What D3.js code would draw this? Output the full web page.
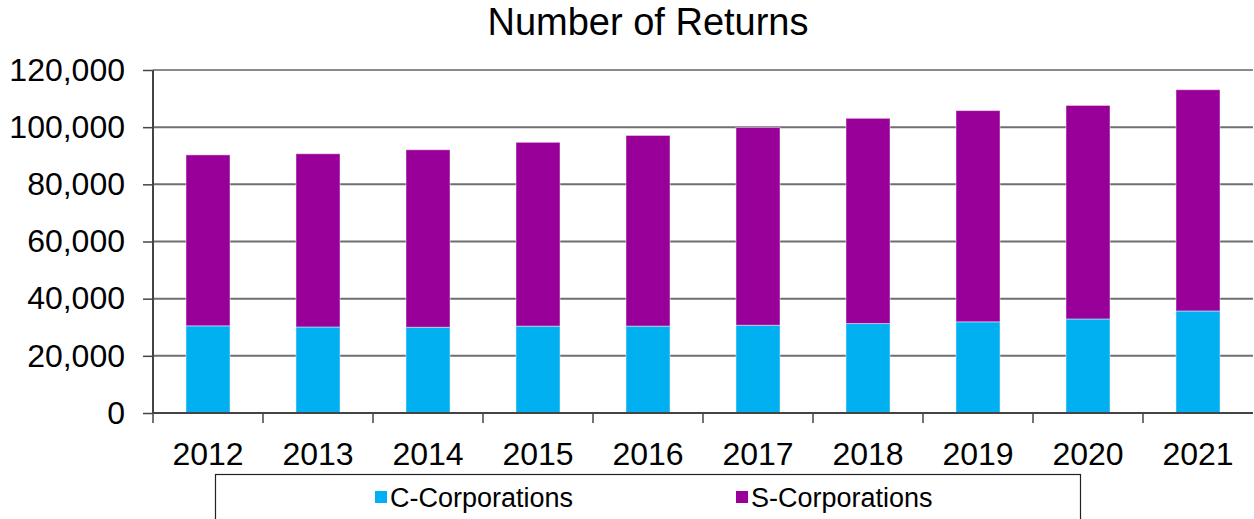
<!DOCTYPE html>
<html>
<head>
<meta charset="utf-8">
<script src="https://cdn.jsdelivr.net/npm/d3@7"></script>
<style>
  body { margin: 0; background: #fff; }
  text { font-family: "Liberation Sans", Arial, sans-serif; fill: #000; }
</style>
</head>
<body>
<div id="chart"></div>
<script>
// data
var years = ["2012", "2013", "2014", "2015", "2016", "2017", "2018", "2019", "2020", "2021"];
var cCorps = [30500, 30100, 30000, 30400, 30400, 30700, 31300, 31900, 32900, 35700];
var sCorps = [59800, 60600, 62100, 64300, 66700, 69200, 71800, 73900, 74700, 77400];
var yTicks = [0, 20000, 40000, 60000, 80000, 100000, 120000];
var seriesNames = ["C-Corporations", "S-Corporations"];
var colors = ["#00B0F0", "#990099"];

var svgWidth = 1254;
var svgHeight = 519;
var margin = { top: 70, right: 1, left: 153, bottom: 106 };
var width = svgWidth - margin.left - margin.right;
var height = svgHeight - margin.top - margin.bottom;

var svg = d3.select("#chart")
  .append("svg")
  .attr("width", svgWidth)
  .attr("height", svgHeight);

// title
svg.append("text")
  .attr("x", 648)
  .attr("y", 35)
  .attr("text-anchor", "middle")
  .style("font-size", "38px")
  .text("Number of Returns");

var g = svg.append("g")
  .attr("transform", "translate(" + margin.left + "," + margin.top + ")");

var xScale = d3.scaleBand()
  .domain(years)
  .range([0, width])
  .paddingInner(0.6)
  .paddingOuter(0.3);

var yScale = d3.scaleLinear()
  .domain([0, 120000])
  .range([height, 0]);

// gridlines
g.selectAll(".grid")
  .data(yTicks)
  .enter()
  .append("line")
  .attr("x1", 0)
  .attr("x2", width)
  .attr("y1", d => yScale(d))
  .attr("y2", d => yScale(d))
  .attr("stroke", d => d == 120000 ? "#8a8a8a" : "#6f6f6f")
  .attr("stroke-width", 2);

// stacked data
var stackData = years.map(function(y, i) {
  return { year: y, c: cCorps[i], s: sCorps[i] };
});
var stack = d3.stack().keys(["c", "s"]);
var layers = stack(stackData);

g.selectAll(".layer")
  .data(layers)
  .enter()
  .append("g")
  .attr("fill", (d, i) => colors[i])
  .selectAll("rect")
  .data(d => d)
  .enter()
  .append("rect")
  .attr("x", d => xScale(d.data.year))
  .attr("width", xScale.bandwidth())
  .attr("y", d => yScale(d[1]))
  .attr("height", d => yScale(d[0]) - yScale(d[1]))
  .attr("stroke", "#fff")
  .attr("stroke-opacity", 0.45)
  .attr("stroke-width", 1);

// y axis
var yAxis = d3.axisLeft(yScale)
  .tickValues(yTicks)
  .tickSize(10)
  .tickPadding(18)
  .tickFormat(d3.format(","));
var yAxisG = g.append("g").call(yAxis);
yAxisG.select(".domain").attr("stroke", "#444").attr("stroke-width", 2).attr("d", "M0," + height + "V0");
yAxisG.selectAll(".tick line").attr("stroke", "#444").attr("stroke-width", 1.5);
yAxisG.selectAll(".tick text")
  .style("font-size", "32px")
  .style("font-family", "'Liberation Sans', Arial, sans-serif")
  .attr("fill", "#000");

// x axis: ticks at band boundaries
var xAxisG = g.append("g").attr("transform", "translate(0," + height + ")");
xAxisG.append("line")
  .attr("x1", 0).attr("x2", width)
  .attr("stroke", "#444").attr("stroke-width", 2);
var step = xScale.step();
xAxisG.selectAll(".xtick")
  .data(years)
  .enter()
  .append("line")
  .attr("x1", (d, i) => i * step)
  .attr("x2", (d, i) => i * step)
  .attr("y1", 0).attr("y2", 10)
  .attr("stroke", "#444").attr("stroke-width", 1.5);
xAxisG.selectAll(".xlabel")
  .data(years)
  .enter()
  .append("text")
  .attr("x", d => xScale(d) + xScale.bandwidth() / 2)
  .attr("y", 52)
  .attr("text-anchor", "middle")
  .style("font-size", "32px")
  .text(d => d);

// legend
var legend = svg.append("g");
legend.append("rect")
  .attr("x", 215.5).attr("y", 474.5)
  .attr("width", 865).attr("height", 60)
  .attr("fill", "none").attr("stroke", "#222").attr("stroke-width", 1.2);
var legendX = [375, 736];
var item = legend.selectAll(".item")
  .data(seriesNames)
  .enter()
  .append("g")
  .attr("transform", (d, i) => "translate(" + legendX[i] + ",491)");
item.append("rect")
  .attr("width", 12).attr("height", 12)
  .attr("fill", (d, i) => colors[i]);
item.append("text")
  .attr("x", 15).attr("y", 16)
  .style("font-size", "27px")
  .text(d => d);
</script>
</body>
</html>
